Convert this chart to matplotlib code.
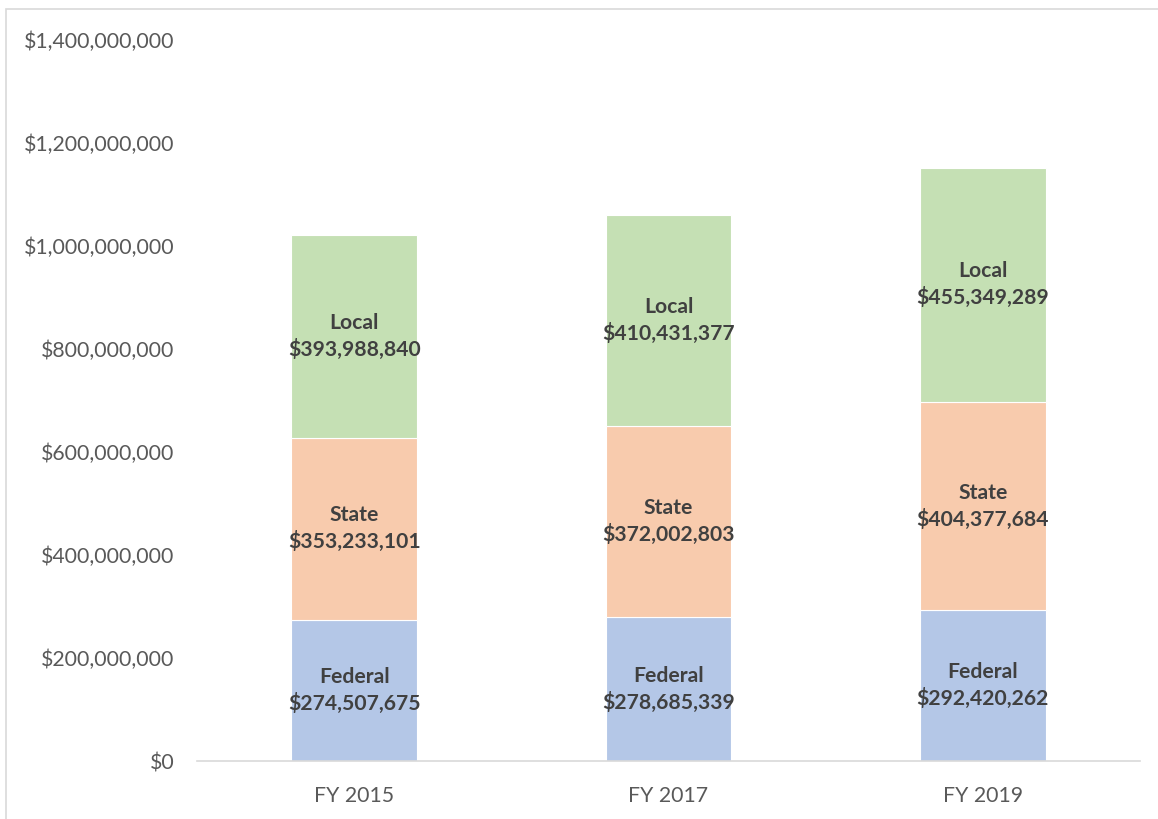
import matplotlib.pyplot as plt
from matplotlib.patches import Rectangle
from matplotlib.ticker import FuncFormatter

years = ["FY 2015", "FY 2017", "FY 2019"]
federal = [274507675, 278685339, 292420262]
state = [353233101, 372002803, 404377684]
local = [393988840, 410431377, 455349289]

series = [("Federal", federal, "#B4C7E7"),
          ("State", state, "#F8CBAD"),
          ("Local", local, "#C5E0B4")]

plt.rcParams['font.family'] = ['Lato', 'DejaVu Sans']

fig = plt.figure(figsize=(11.58, 8.19), dpi=100)
ax = fig.add_axes([197 / 1158, 1 - 761 / 819, (1140 - 197) / 1158, (761 - 40) / 819])

x = range(len(years))
bottom = [0] * len(years)
for name, vals, color in series:
    ax.bar(x, vals, width=0.4, bottom=bottom, color=color, edgecolor="white", linewidth=0.8)
    for i, v in enumerate(vals):
        ax.text(i, bottom[i] + v / 2, f"{name}\n${v:,.0f}", ha="center", va="center",
                fontsize=15.2, fontweight="bold", color="#404040", linespacing=1.35)
    bottom = [b + v for b, v in zip(bottom, vals)]

ax.set_xlim(-0.5, 2.5)
ax.set_ylim(0, 1400000000)
ax.set_yticks(range(0, 1400000001, 200000000))
ax.yaxis.set_major_formatter(FuncFormatter(lambda v, p: f"${v:,.0f}"))
ax.set_xticks(list(x))
ax.set_xticklabels(years)
ax.tick_params(axis="both", length=0, labelsize=15.3, colors="#595959")
ax.tick_params(axis="y", pad=16)
ax.tick_params(axis="x", pad=18)
for s in ["top", "right", "left"]:
    ax.spines[s].set_visible(False)
ax.spines["bottom"].set_color("#D9D9D9")
ax.spines["bottom"].set_linewidth(1.2)

# chart border (Excel-style frame)
fig.patches.append(Rectangle((6 / 1158, -0.05), 1.1, 1 - 9 / 819 + 0.05, transform=fig.transFigure,
                             fill=False, edgecolor="#D9D9D9", linewidth=1.2))

fig.savefig("out.png", dpi=100)
